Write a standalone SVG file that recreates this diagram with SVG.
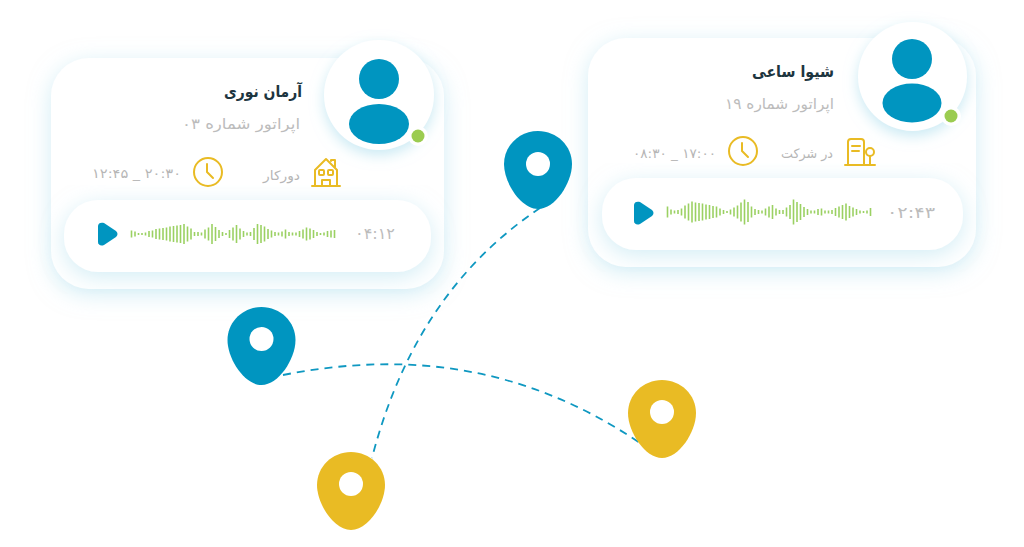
<svg xmlns="http://www.w3.org/2000/svg" width="1024" height="547" viewBox="0 0 1024 547">
<style>
text{font-family:"DejaVu Sans",sans-serif}
.name{font-size:16px;font-weight:700;fill:#1d3540}
.role{font-size:15px;fill:#bcbcbc}
.small{font-size:13px;fill:#b6b6b6}
.dur{font-size:16px;fill:#bcbcbc}
.card{fill:#fff;filter:url(#sh)}
.av{fill:#fff;filter:url(#sh2)}
.blue{fill:#0095c0}
.icon{fill:none;stroke:#e9bb24;stroke-width:2;stroke-linecap:round;stroke-linejoin:round}
.wave{fill:none;stroke:#9bd163;stroke-width:1.6}
.dash{fill:none;stroke:#0f98c1;stroke-width:1.8;stroke-dasharray:8 6}
</style>
<defs>
<filter id="sh" x="-20%" y="-20%" width="140%" height="150%"><feDropShadow dx="0" dy="5" stdDeviation="11" flood-color="#a6dcec" flood-opacity=".5"/></filter>
<filter id="sh2" x="-30%" y="-30%" width="160%" height="170%"><feDropShadow dx="0" dy="5" stdDeviation="7" flood-color="#a6dcec" flood-opacity=".6"/></filter>
<path id="pin" d="M0,0C19,0 34,15 34,33C34,52 17,78 0,78C-17,78 -34,52 -34,33C-34,15 -19,0 0,0Z"/>
<path id="play" d="M0,3C0,0 3,-1 6,0L18,8C20,10 20,12 18,14L6,22C3,23.500 0,22 0,19Z"/>
<g id="clock"><circle r="14" class="icon"/><path d="M-1,-8V0L5,6" class="icon"/></g>
</defs>
<g id="connectors">
<path class="dash" d="M540,208C470,255 405,330 372,458"/>
<path class="dash" d="M283,375C400,352 520,362 640,443"/>
</g>
<g id="card-left">
<rect class="card" x="51" y="58" width="393" height="231" rx="38"/>
<rect class="card" x="64" y="200" width="367" height="72" rx="34"/>
<g id="avatar-left">
<circle class="av" cx="379" cy="95" r="55"/>
<circle class="blue" cx="379" cy="79" r="20"/>
<ellipse class="blue" cx="379" cy="124" rx="30" ry="20"/>
<circle cx="418" cy="136" r="10" fill="#fff"/>
<circle cx="418" cy="136" r="6.500" fill="#9bcc50"/>
</g>
<text class="name" x="302" y="97" direction="rtl" textLength="78" lengthAdjust="spacingAndGlyphs">آرمان نوری</text>
<text class="role" x="300" y="129" direction="rtl" textLength="118" lengthAdjust="spacingAndGlyphs">اپراتور شماره ۰۳</text>
<g id="icon-house" class="icon">
<path d="M312,186H340M315,186V170L326,159L337,170V186"/>
<path d="M331,161V160H335V167"/>
<rect x="319" y="170" width="5" height="5" rx="1"/><rect x="328" y="170" width="5" height="5" rx="1"/>
<path d="M322,186V180H330V186"/>
</g>
<text class="small" x="300" y="180" direction="rtl" textLength="37" lengthAdjust="spacingAndGlyphs">دورکار</text>
<use href="#clock" x="208" y="172"/>
<text class="small" x="92" y="178" direction="ltr" textLength="89" lengthAdjust="spacingAndGlyphs">۱۲:۴۵ _ ۲۰:۳۰</text>
<use href="#play" class="blue" x="98" y="223"/>
<path class="wave" d="M131.5 230.5v7M135 231.5v5M138.5 233v2M142 233v2M145.5 232.5v3M149 231v6M152.500 230.5v7M156 229v10M159.5 228.5v11M163 228v12M166.5 227.5v13M170 226.5v15M173.5 226v16M177 225.5v17M180.5 225v18M184 224v20M187.5 226.5v15M191 228.5v11M194.5 232v4M198 232v4M201.5 232.5v3M205 229.5v9M208.5 227.5v13M212 224v20M215.5 227v14M219 230v8M222.5 232v4M226 233v2M229.5 230v8M233 227.5v13M236.5 225v18M240 228.5v11M243.5 231v6M247 232.5v3M250.5 232v4M254 228v12M257.5 224v20M261 225v18M264.5 226.5v15M268 229v10M271.5 230.5v7M275 232v4M278.5 232.5v3M282 231.5v5M285.5 229.5v9M289 232v4M292.5 232.5v3M296 232.5v3M299.5 231v6M303 229.5v9M306.5 227.5v13M310 228.5v11M313.5 230v8M317 232v4M320.5 233v2M324 232.5v3M327.5 231v6M331 230.5v7M334.5 230v8"/>
<text class="dur" x="355" y="239" direction="ltr" textLength="40" lengthAdjust="spacingAndGlyphs">۰۴:۱۲</text>
</g>
<g id="card-right">
<rect class="card" x="588" y="38" width="388" height="229" rx="38"/>
<rect class="card" x="602" y="178" width="361" height="72" rx="34"/>
<g id="avatar-right">
<circle class="av" cx="912.500" cy="76.500" r="54.500"/>
<circle class="blue" cx="912" cy="59" r="20"/>
<ellipse class="blue" cx="912" cy="103" rx="29.500" ry="19.500"/>
<circle cx="951" cy="116" r="10" fill="#fff"/>
<circle cx="951" cy="116" r="6.500" fill="#9bcc50"/>
</g>
<text class="name" x="834" y="77" direction="rtl" textLength="82" lengthAdjust="spacingAndGlyphs">شیوا ساعی</text>
<text class="role" x="834" y="109" direction="rtl" textLength="109" lengthAdjust="spacingAndGlyphs">اپراتور شماره ۱۹</text>
<g id="icon-building" class="icon">
<path d="M845,165H875M848,165V142Q848,139 851,139H861Q864,139 864,142V165"/>
<path d="M852,146H860M852,151H859M870,165V156"/>
<circle cx="870" cy="152" r="4"/>
</g>
<text class="small" x="833" y="158" direction="rtl" textLength="52" lengthAdjust="spacingAndGlyphs">در شرکت</text>
<use href="#clock" x="743" y="151"/>
<text class="small" x="633" y="158" direction="ltr" textLength="83" lengthAdjust="spacingAndGlyphs">۰۸:۳۰ _ ۱۷:۰۰</text>
<use href="#play" class="blue" x="634" y="202"/>
<path class="wave" d="M667.5 206.5v11M671 209.5v5M674.5 210.5v3M678 210v4M681.5 208.5v7M685 205.5v13M688.5 203.5v17M692 201.5v21M695.5 202.5v19M699 203v18M702.5 203.5v17M706 204.5v15M709.5 205v14M713 206v12M716.5 206.5v11M720 208.5v7M723.5 210v4M727 211v2M730.5 209.5v5M734 207.5v9M737.5 205.5v13M741 202.5v19M744.5 199.5v25M748 202v20M751.5 206.5v11M755 209v6M758.5 210v4M762 210.5v3M765.5 208.5v7M769 206.5v11M772.5 205v14M776 208.5v7M779.5 210v4M783 210v4M786.5 207.5v9M790 205v14M793.5 199.5v25M797 202v20M800.5 204v16M804 207v10M807.5 209v6M811 210.5v3M814.5 210.5v3M818 209v6M821.5 208.5v7M825 210.5v3M828.5 210.5v3M832 210v4M835.5 208v8M839 206.5v11M842.5 205v14M846 203.5v17M849.5 206v12M853 207.5v9M856.5 209v6M860 210.5v3M863.5 211v2M867 210.5v3M870.5 208v8"/>
<text class="dur" x="887" y="218" direction="ltr" textLength="48" lengthAdjust="spacingAndGlyphs">۰۲:۴۳</text>
</g>
<g id="pin-blue-top"><use href="#pin" class="blue" x="538" y="131"/><circle cx="538" cy="164" r="12" fill="#fff"/></g>
<g id="pin-blue-left"><use href="#pin" class="blue" x="261.500" y="307"/><circle cx="261.500" cy="339" r="12" fill="#fff"/></g>
<g id="pin-yellow-right"><use href="#pin" fill="#e9bb24" x="662" y="380"/><circle cx="662" cy="412" r="12" fill="#fff"/></g>
<g id="pin-yellow-bottom"><use href="#pin" fill="#e9bb24" x="351" y="452"/><circle cx="351" cy="484" r="12" fill="#fff"/></g>
</svg>
